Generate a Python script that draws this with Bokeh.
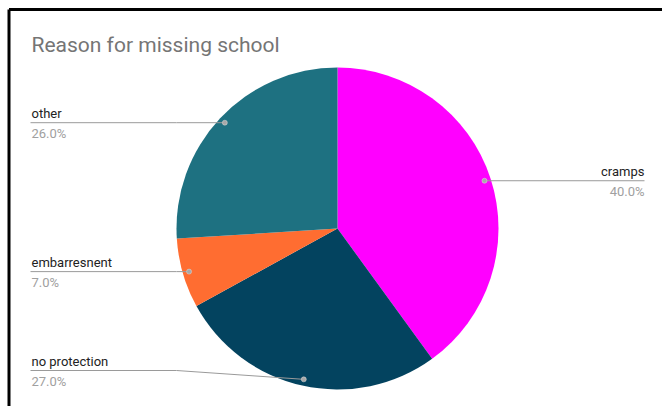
import numpy as np
from bokeh.plotting import figure
from bokeh.models import Range1d
from bokeh.core.properties import value
from bokeh.embed import file_html
from bokeh.resources import INLINE

# ---- data ----
categories = ["cramps", "no protection", "embarresnent", "other"]
values = [40.0, 27.0, 7.0, 26.0]
colors = ["#ff00ff", "#03435f", "#ff6d31", "#1e7181"]
title_text = "Reason for missing school"

W, H = 662, 406
p = figure(width=W, height=H, output_backend="svg", toolbar_location=None,
           x_range=Range1d(0, W), y_range=Range1d(0, H),
           x_axis_location=None, y_axis_location=None, min_border=0)
p.grid.visible = False
p.outline_line_color = None
p.background_fill_color = "white"
p.border_fill_color = "white"

def Y(py):
    return H - py

FONT = value("Roboto")

# frame border (top and left only, as in the cropped screenshot)
p.segment(x0=[8.5, 8.5], y0=[Y(9), Y(9)], x1=[W, 8.5], y1=[Y(9), 0],
          line_color="black", line_width=3)

# title
p.text(x=[31], y=[Y(44)], text=[title_text], text_font=FONT,
       text_font_size="21px", text_color="#757575", text_baseline="alphabetic")

# pie
cx, cy, R = 337, Y(228), 161
vals = np.array(values)
frac = vals / vals.sum()
cum = np.concatenate([[0], np.cumsum(frac)])
start = np.pi / 2 - 2 * np.pi * cum[:-1]
end = np.pi / 2 - 2 * np.pi * cum[1:]
p.wedge(x=cx, y=cy, radius=R, start_angle=start, end_angle=end,
        direction="clock", fill_color=colors, line_color=None)

# labels
mid = np.pi / 2 - 2 * np.pi * (cum[:-1] + cum[1:]) / 2
rd = 0.96 * R
dx = cx + rd * np.cos(mid)
dy = cy + rd * np.sin(mid)
for i, cat in enumerate(categories):
    x0, y0 = dx[i], dy[i]
    ly = max(y0, Y(370))
    pct = f"{frac[i] * 100:.1f}%"
    if x0 >= cx:
        xs = [x0, 644]
        ys = [y0, y0]
        tx, align = 644, "right"
        ly = y0
    else:
        bend = cx - R
        xs = [x0, bend, 30]
        ys = [y0, ly, ly]
        tx, align = 31, "left"
    p.line(xs, ys, line_color="#9a9a9a", line_width=1)
    p.scatter([x0], [y0], size=5, fill_color="#a8a8a8", line_color="#dddddd",
              line_width=0.5)
    p.text(x=[tx], y=[ly + 9], text=[cat], text_font=FONT, text_font_size="13px",
           text_color="#222222", text_align=align, text_baseline="alphabetic")
    p.text(x=[tx], y=[ly - 11], text=[pct], text_font=FONT, text_font_size="13px",
           text_color="#a0a0a0", text_align=align, text_baseline="alphabetic")

open("out.html", "w").write(file_html(p, INLINE))
